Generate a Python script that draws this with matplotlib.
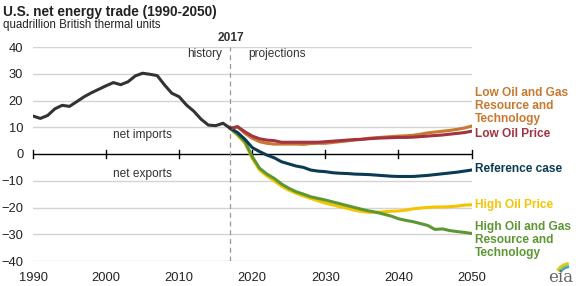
import numpy as np
import matplotlib
matplotlib.use('Agg')
import matplotlib.pyplot as plt
from matplotlib.patches import Arc

plt.rcParams['font.family'] = ['Liberation Sans', 'DejaVu Sans']

# history 1990-2017
hist_years = list(range(1990, 2018))
hist = [14.2, 13.3, 14.4, 16.9, 18.2, 17.8, 19.6, 21.4, 22.9, 24.2,
        25.5, 26.7, 25.9, 27.0, 29.2, 30.2, 29.8, 29.3, 25.8, 22.7,
        21.4, 18.3, 16.0, 13.0, 10.8, 10.6, 11.5, 9.6]

# projections 2017-2050
proj_years = list(range(2017, 2051))
reference = [9.6, 8.0, 5.5, 2.4, 0.9, -0.4, -1.4, -2.9, -3.7, -4.5,
             -5.0, -6.0, -6.4, -6.6, -7.0, -7.2, -7.3, -7.5, -7.6, -7.7,
             -7.9, -8.1, -8.3, -8.4, -8.4, -8.4, -8.2, -8.0, -7.7, -7.4,
             -7.1, -6.8, -6.4, -6.0]
low_oil_price = [9.6, 10.2, 8.3, 6.7, 5.7, 5.2, 5.0, 4.4, 4.4, 4.4,
                 4.4, 4.4, 4.4, 4.6, 4.8, 5.0, 5.2, 5.4, 5.5, 5.7,
                 5.9, 6.0, 6.1, 6.2, 6.2, 6.3, 6.5, 6.7, 6.9, 7.1,
                 7.4, 7.7, 8.0, 8.5]
low_ogrt = [9.6, 10.2, 7.7, 5.9, 4.6, 4.0, 3.7, 3.7, 3.7, 3.7,
            3.6, 3.9, 4.0, 4.0, 4.3, 4.6, 4.9, 5.2, 5.5, 5.9,
            6.1, 6.3, 6.5, 6.7, 6.8, 7.0, 7.4, 7.9, 8.2, 8.5,
            8.8, 9.2, 9.7, 10.4]
high_oil_price = [9.6, 7.0, 4.0, -1.6, -6.0, -8.2, -10.0, -12.0, -13.5, -14.7,
                  -15.7, -16.6, -17.5, -18.4, -19.0, -19.7, -20.3, -21.0, -21.5, -21.8,
                  -21.8, -21.6, -21.4, -21.3, -21.0, -20.5, -20.2, -20.0, -19.8, -19.8,
                  -19.7, -19.5, -19.1, -19.0]
high_ogrt = [9.6, 7.3, 4.6, -1.0, -5.3, -7.5, -9.1, -11.2, -12.8, -14.1,
             -15.0, -16.0, -16.6, -17.2, -17.9, -18.6, -19.3, -20.0, -20.7, -21.3,
             -21.8, -22.5, -23.2, -24.2, -24.8, -25.3, -26.0, -26.7, -28.2, -28.0,
             -28.6, -29.0, -29.3, -29.7]

W, H = 581, 286
fig = plt.figure(figsize=(W/100, H/100), dpi=100)
ax = fig.add_axes([33/W, 1 - 261/H, (471.5 - 33)/W, (261 - 47)/H])

c_hist = '#333333'
c_ref = '#0b3a55'
c_red = '#a33340'
c_orange = '#c8782f'
c_yellow = '#f5c400'
c_green = '#5d9732'
lw = 2.2

for y in [-40, -30, -20, -10, 10, 20, 30, 40]:
    ax.axhline(y, color='#d4d4d4', lw=1, zorder=0)
ax.axhline(0, color='black', lw=1, zorder=1)
for x in range(1990, 2051, 10):
    ax.plot([x, x], [-1.5, 1.5], color='black', lw=1, zorder=1, clip_on=False)
ax.axvline(2017, color='#999999', lw=0.9, ls=(0, (4, 3)), zorder=1)

ax.plot(proj_years, high_oil_price, color=c_yellow, lw=lw, zorder=3)
ax.plot(proj_years, high_ogrt, color=c_green, lw=lw, zorder=3)
ax.plot(proj_years, reference, color=c_ref, lw=lw, zorder=3)
ax.plot(proj_years, low_ogrt, color=c_orange, lw=lw, zorder=3)
ax.plot(proj_years, low_oil_price, color=c_red, lw=lw, zorder=3)
ax.plot(hist_years, hist, color=c_hist, lw=lw, zorder=4)

ax.set_xlim(1990, 2050)
ax.set_ylim(-40, 40)
for s in ax.spines.values():
    s.set_visible(False)
ax.set_yticks(range(-40, 41, 10))
ax.set_xticks(range(1990, 2051, 10))
ax.tick_params(length=0, labelsize=9.3, labelcolor='#222222')
ax.tick_params(axis='y', pad=7)
ax.tick_params(axis='x', pad=8)

# series labels
lab = dict(fontsize=8.6, fontweight='bold', va='center', ha='left',
           clip_on=False, linespacing=1.15)
ax.text(2050.5, 17.9, 'Low Oil and Gas\nResource and\nTechnology', color=c_orange, **lab)
ax.text(2050.5, 7.4, 'Low Oil Price', color=c_red, **lab)
ax.text(2050.5, -5.7, 'Reference case', color=c_ref, **lab)
ax.text(2050.5, -19.0, 'High Oil Price', color=c_yellow, **lab)
ax.text(2050.5, -32.1, 'High Oil and Gas\nResource and\nTechnology', color=c_green, **lab)

def ftext(x, y, s, **kw):
    fig.text(x/W, 1 - y/H, s, **kw)

ftext(3, 12, 'U.S. net energy trade (1990-2050)', fontsize=9.8, fontweight='bold',
      va='center', color='#222222')
ftext(3, 25, 'quadrillion British thermal units', fontsize=8.3, va='center', color='#222222')
ftext(231, 38, '2017', fontsize=8.6, fontweight='bold', ha='center', va='center', color='#333333')
ftext(222, 54, 'history', fontsize=8.6, ha='right', va='center', color='#333333')
ftext(248, 54, 'projections', fontsize=8.6, ha='left', va='center', color='#333333')
ftext(142.5, 135, 'net imports', fontsize=8.6, ha='center', va='center', color='#333333')
ftext(142.5, 174, 'net exports', fontsize=8.6, ha='center', va='center', color='#333333')

# eia logo
ftext(561, 278, 'eia', fontsize=12, family='DejaVu Serif', ha='center', va='center', color='#666666')
lax = fig.add_axes([548/W, 1 - 280/H, 28/W, 22/H])
lax.set_xlim(0, 28)
lax.set_ylim(0, 22)
lax.axis('off')
lax.add_patch(Arc((22, 2), 30, 30, theta1=95, theta2=150, color='#f5c400', lw=1.4))
lax.add_patch(Arc((22, 2), 26, 26, theta1=95, theta2=150, color='#8cc63f', lw=1.4))
lax.add_patch(Arc((22, 2), 22, 22, theta1=95, theta2=150, color='#3b8fc7', lw=1.4))

fig.savefig('out.png', dpi=100)
